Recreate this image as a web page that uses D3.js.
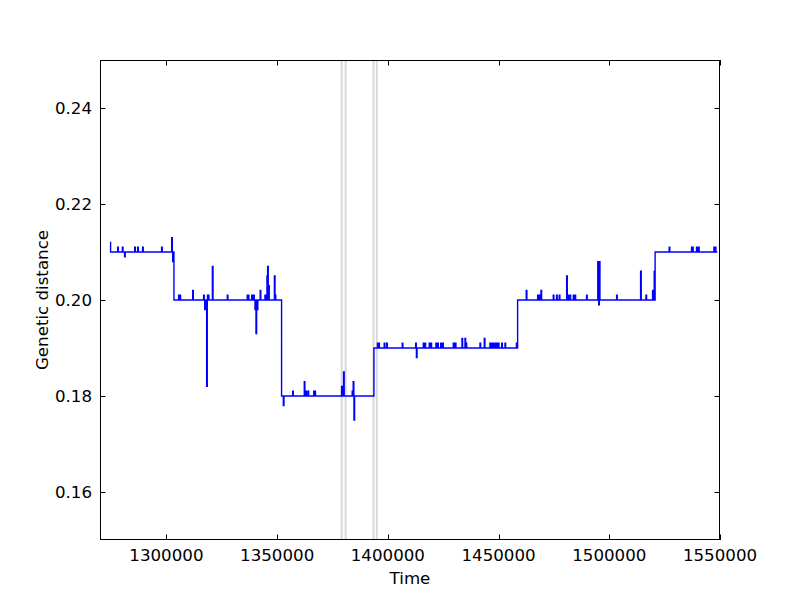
<!DOCTYPE html>
<html>
<head>
<meta charset="utf-8">
<script src="https://cdn.jsdelivr.net/npm/d3@7"></script>
<style>
  html, body { margin: 0; padding: 0; background: #fff; }
  svg { display: block; }
  text { font-family: "DejaVu Sans", sans-serif; fill: #000; }
</style>
</head>
<body>
<script>
// ---- data ----
const xTicks = [1300000, 1350000, 1400000, 1450000, 1500000, 1550000];
const yTicks = [0.16, 0.18, 0.20, 0.22, 0.24];
const xDomain = [1270000, 1550000];
const yDomain = [0.15, 0.25];

// baseline levels of the step line
const levelStarts = [1274500, 1303400, 1352000, 1393700, 1458600, 1520700];
const levelValues = [0.21, 0.20, 0.18, 0.19, 0.20, 0.21];
const endTime = 1548800;

// short excursions away from the baseline
const spikeTimes = [
  1274500, 1278000, 1280100, 1281100, 1285670, 1287000, 1289240, 1297820, 1302380, 1302830, 1303100,
  1305500, 1306100, 1311860, 1316800, 1317300, 1317700, 1318170, 1318550, 1318900, 1320760, 1327500,
  1336500, 1336950, 1338500, 1339400, 1340000, 1340450, 1341000, 1342340, 1344500, 1345100, 1345400,
  1345700, 1346150, 1348760, 1349100,
  1352800, 1357000, 1362250, 1363000, 1363950, 1366500, 1367050, 1379100, 1380000, 1383900, 1384350, 1384700,
  1395300, 1395900, 1398350, 1399450, 1406500, 1412550, 1412900, 1416000, 1416750, 1418700, 1419450,
  1421700, 1422500, 1423850, 1424750, 1429550, 1430450, 1433480, 1434840, 1435300, 1441600, 1443550,
  1446100, 1446800, 1447600, 1448400, 1449150, 1449900, 1451400, 1452900, 1458050,
  1462500, 1467650, 1468400, 1469150, 1474700, 1476200, 1477400, 1480750, 1481300, 1482250, 1483750,
  1484500, 1489750, 1494800, 1495200, 1495500, 1503300, 1514150, 1516550, 1519550, 1520300,
  1527050, 1537150, 1537600, 1539400, 1540300, 1547250, 1547850
];
const spikeValues = [
  0.212, 0.211, 0.211, 0.209, 0.211, 0.211, 0.211, 0.211, 0.213, 0.208, 0.208,
  0.201, 0.201, 0.202, 0.201, 0.198, 0.198, 0.182, 0.201, 0.201, 0.207, 0.201,
  0.201, 0.201, 0.201, 0.201, 0.198, 0.193, 0.198, 0.202, 0.201, 0.201, 0.205,
  0.207, 0.203, 0.205, 0.201,
  0.178, 0.181, 0.183, 0.181, 0.181, 0.181, 0.181, 0.182, 0.185, 0.181, 0.183, 0.175,
  0.191, 0.191, 0.191, 0.191, 0.191, 0.191, 0.188, 0.191, 0.191, 0.191, 0.191,
  0.191, 0.191, 0.191, 0.191, 0.191, 0.191, 0.192, 0.192, 0.191, 0.191, 0.192,
  0.191, 0.191, 0.191, 0.191, 0.191, 0.191, 0.191, 0.191, 0.191,
  0.202, 0.201, 0.201, 0.202, 0.201, 0.201, 0.201, 0.205, 0.201, 0.201, 0.201,
  0.201, 0.201, 0.208, 0.199, 0.208, 0.201, 0.206, 0.201, 0.202, 0.206,
  0.211, 0.211, 0.211, 0.211, 0.211, 0.211, 0.211
];
const spikeWidth = 280;

// gap markers (light grey vertical lines)
const markerTimes = [1379150, 1380950, 1393500, 1395000];

// ---- layout ----
const W = 800, H = 600;
const m = { left: 100, right: 80, top: 60, bottom: 60 };
const pw = W - m.left - m.right, ph = H - m.top - m.bottom;

const x = d3.scaleLinear().domain(xDomain).range([m.left, m.left + pw]);
const y = d3.scaleLinear().domain(yDomain).range([m.top + ph, m.top]);

// build step series from levels and spikes
function baseAt(t) {
  let v = levelValues[0];
  for (let i = 0; i < levelStarts.length; i++) if (t >= levelStarts[i]) v = levelValues[i];
  return v;
}
let pts = [];
levelStarts.forEach((t, i) => pts.push({ t, v: levelValues[i], o: 0 }));
spikeTimes.forEach((t, i) => {
  pts.push({ t, v: spikeValues[i], o: 1 });
  pts.push({ t: t + spikeWidth, v: baseAt(t + spikeWidth), o: 2 });
});
pts.push({ t: endTime, v: baseAt(endTime), o: 3 });
pts.sort((a, b) => a.t - b.t || a.o - b.o);
// drop baseline entries overridden by a spike at the same time
pts = pts.filter((p, i) => !(i + 1 < pts.length && pts[i + 1].t === p.t));

const svg = d3.select("body").append("svg").attr("width", W).attr("height", H);
svg.append("rect").attr("width", W).attr("height", H).attr("fill", "#fff");

svg.append("defs").append("clipPath").attr("id", "clip")
  .append("rect").attr("x", m.left).attr("y", m.top).attr("width", pw).attr("height", ph);

// grey markers
svg.append("g").selectAll("line").data(markerTimes).join("line")
  .attr("x1", d => x(d)).attr("x2", d => x(d))
  .attr("y1", m.top).attr("y2", m.top + ph)
  .attr("stroke", "#d8d8d8").attr("stroke-width", 2);

// step line
const line = d3.line().x(d => x(d.t)).y(d => y(d.v)).curve(d3.curveStepAfter);
svg.append("path").datum(pts)
  .attr("clip-path", "url(#clip)")
  .attr("d", line)
  .attr("fill", "none")
  .attr("stroke", "#0000ff")
  .attr("stroke-width", 1.4)
  .attr("stroke-linejoin", "miter");

// frame
svg.append("rect").attr("x", m.left + 0.5).attr("y", m.top + 0.5)
  .attr("width", pw - 1).attr("height", ph - 1)
  .attr("fill", "none").attr("stroke", "#000").attr("stroke-width", 1);

const tl = 5.5;
const fs = "16.67px";
// x ticks (bottom and top, inward)
const gx = svg.append("g");
xTicks.forEach(t => {
  const xp = Math.round(x(t)) + 0.5;
  gx.append("line").attr("x1", xp).attr("x2", xp).attr("y1", m.top + ph).attr("y2", m.top + ph - tl).attr("stroke", "#000");
  gx.append("line").attr("x1", xp).attr("x2", xp).attr("y1", m.top).attr("y2", m.top + tl).attr("stroke", "#000");
  gx.append("text").attr("x", x(t)).attr("y", m.top + ph + 21)
    .attr("text-anchor", "middle").style("font-size", fs).text(d3.format("d")(t));
});
// y ticks (left and right, inward)
const gy = svg.append("g");
yTicks.forEach(v => {
  const yp = Math.round(y(v)) + 0.5;
  gy.append("line").attr("x1", m.left).attr("x2", m.left + tl).attr("y1", yp).attr("y2", yp).attr("stroke", "#000");
  gy.append("line").attr("x1", m.left + pw).attr("x2", m.left + pw - tl).attr("y1", yp).attr("y2", yp).attr("stroke", "#000");
  gy.append("text").attr("x", m.left - 8).attr("y", y(v)).attr("dy", "0.36em")
    .attr("text-anchor", "end").style("font-size", fs).text(d3.format(".2f")(v));
});

// axis labels
svg.append("text").attr("x", m.left + pw / 2).attr("y", 584)
  .attr("text-anchor", "middle").style("font-size", fs).text("Time");
svg.append("text").attr("transform", `translate(48,${m.top + ph / 2}) rotate(-90)`)
  .attr("text-anchor", "middle").style("font-size", fs).text("Genetic distance");
</script>
</body>
</html>
